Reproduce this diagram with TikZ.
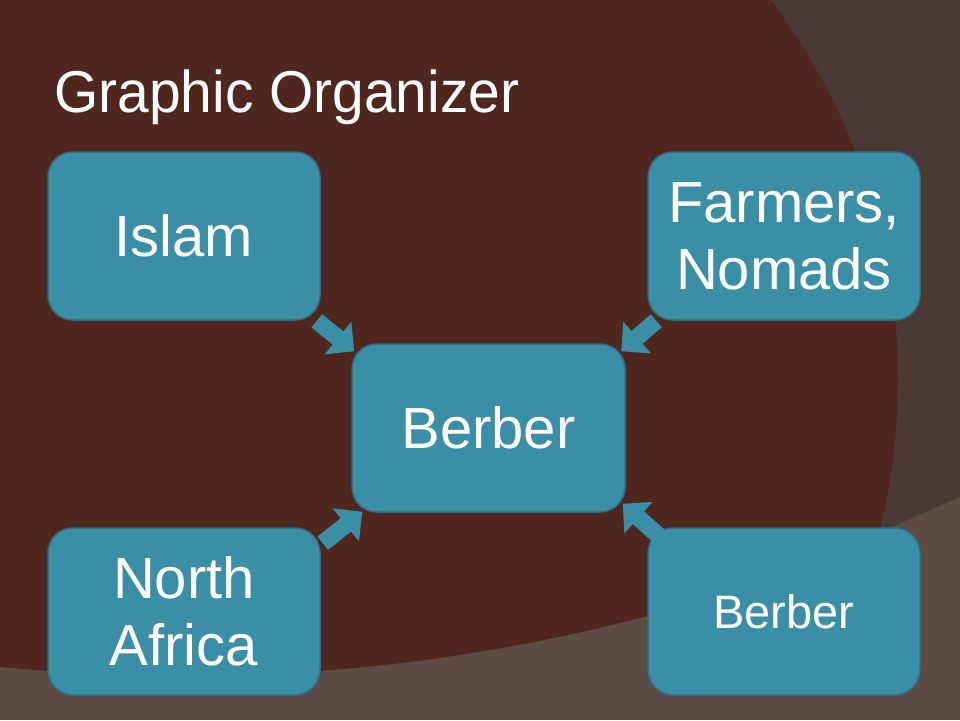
\documentclass[tikz,border=0pt]{standalone}
\usepackage{fontspec}
\usepackage{graphicx}
\setmainfont{Liberation Sans}
\usetikzlibrary{arrows.meta,calc}
\definecolor{bglight}{HTML}{5E4B46}
\definecolor{bgmid}{HTML}{4A3934}
\definecolor{bgdark}{HTML}{4F271E}
\definecolor{boxteal}{HTML}{3A8FA7}
\definecolor{boxedge}{HTML}{2D7086}
\begin{document}
\begin{tikzpicture}[x=1pt,y=-1pt,
  box/.style={draw=boxedge, line width=1.5pt, fill=boxteal, rounded corners=25pt,
    text=white, align=center, inner sep=0pt,
    minimum width=272pt, minimum height=168pt,
    font=\fontsize{58}{67}\selectfont},
  blockarrow/.style={draw=boxteal, line width=17pt,
    -{Triangle[width=41pt,length=21pt]}}]
\useasboundingbox (0,0) rectangle (960,720);
% background
\begin{scope}
  \clip (0,0) rectangle (960,720);
  \fill[bglight] (0,0) rectangle (960,720);
  \fill[bgmid] (0,0) -- (960,0) -- (960,497) -- (880,532) -- (0,532) -- cycle;
  \clip (272,379) circle[radius=626pt];
  \fill[bgdark] (183,-1136) circle[radius=1812pt];
\end{scope}
% title
\node[anchor=base west, text=white, inner sep=0pt,
  font=\fontsize{59}{59}\selectfont] (title) at (54,112)
  {\scalebox{0.965}[1]{Graphic Organizer}};
% boxes
\node[box] (islam) at (184,236) {Islam};
\node[box] (farmers) at (784,236) {Farmers,\\Nomads};
\node[box, minimum width=273pt] (hub) at (488.5,428) {Berber};
\node[box, minimum height=167pt] (africa) at (184,611.5) {North\\Africa};
\node[box, minimum height=167pt, font=\fontsize{47}{54}\selectfont] (berber2) at (784,611.5) {Berber};
% arrow ends
\coordinate (t1) at ($(islam.south east)+(-4,0)$);
\coordinate (h1) at ($(hub.north west)+(3,8)$);
\coordinate (t2) at ($(farmers.south west)+(9,0)$);
\coordinate (h2) at ($(hub.north east)+(-4.5,8)$);
\coordinate (t3) at ($(africa.north east)+(2,16)$);
\coordinate (h3) at ($(hub.south west)+(11,-1)$);
\coordinate (t4) at ($(berber2.north west)+(12,9)$);
\coordinate (h4) at ($(hub.south east)+(-3,-9)$);
\draw[blockarrow] (t1) -- (h1);
\draw[blockarrow] (t2) -- (h2);
\draw[blockarrow] (t3) -- (h3);
\draw[blockarrow] (t4) -- (h4);
\end{tikzpicture}
\end{document}
